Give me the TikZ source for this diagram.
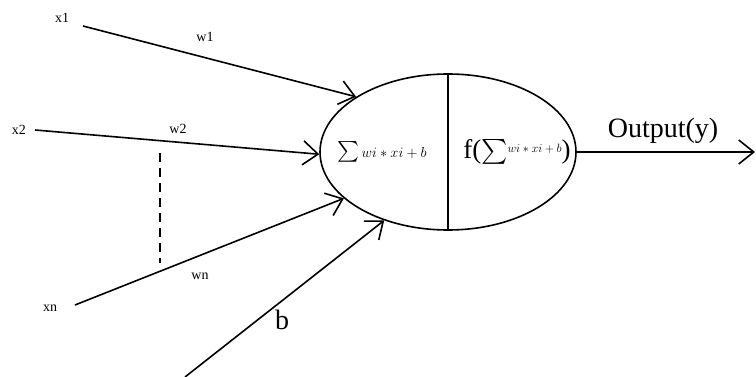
\documentclass[tikz,border=0pt]{standalone}
\usepackage{amsmath}
\usepackage{fontspec}
\setmainfont{Liberation Serif}
\usetikzlibrary{shapes.geometric}
\usetikzlibrary{arrows.meta}

\tikzset{
    wire/.style = {line width = 1.6pt, -{Straight Barb[length = 15pt, width = 24pt, line width = 1.6pt]}},
    small/.style = {font = \fontsize{14}{16}\selectfont, inner sep = 1pt},
    big/.style = {font = \fontsize{28}{30}\selectfont, inner sep = 1pt}
}

\begin{document}
\begin{tikzpicture}[x = 1pt, y = -1pt]
    \useasboundingbox (0,0) rectangle (756,377);

    % neuron
    \node[ellipse, draw, line width = 1.6pt, minimum width = 256pt, minimum height = 156pt, inner sep = 0pt] (neuron) at (448,152) {};
    \draw[line width = 1.6pt] (neuron.north) -- (neuron.south);
    \node[inner sep = 0pt] (sum) at (382,152) {{\fontsize{21}{23}\selectfont$\sum$}\fontsize{14}{16}\selectfont$\,wi * xi + b$};
    \node[inner sep = 0pt] (act) at (517,152) {\fontsize{27}{29}\selectfont f($\sum$\raisebox{0.5ex}{\fontsize{12}{14}\selectfont$wi * xi + b$})};

    % inputs
    \node[small] (x1) at (62,18) {x1};
    \node[small] (x2) at (19,130) {x2};
    \node[small] (xn) at (50,308) {xn};
    \coordinate (x1s) at (83,26);
    \coordinate (x2s) at (35,130);
    \coordinate (xns) at (75,305);
    \coordinate (bs) at (185,377);

    \draw[wire] (x1s) -- (neuron.149);
    \draw[wire] (x2s) -- (neuron.181);
    \draw[wire] (xns) -- (neuron.204);
    \draw[wire] (bs) -- (neuron.227);

    \node[small] (w1) at (205,37) {w1};
    \node[small] (w2) at (178,129) {w2};
    \node[small] (wn) at (200,276) {wn};
    \node[big] (b) at (282,320) {b};

    % dots between x2 and xn
    \coordinate (d1) at (160,153);
    \coordinate (d2) at (160,263);
    \draw[line width = 1.8pt, dash pattern = on 9pt off 6pt] (d1) -- (d2);

    % output
    \coordinate (out) at (755,152);
    \draw[wire] (neuron.east) -- (out);
    \node[big] (y) at (663,131) {Output(y)};
\end{tikzpicture}
\end{document}
